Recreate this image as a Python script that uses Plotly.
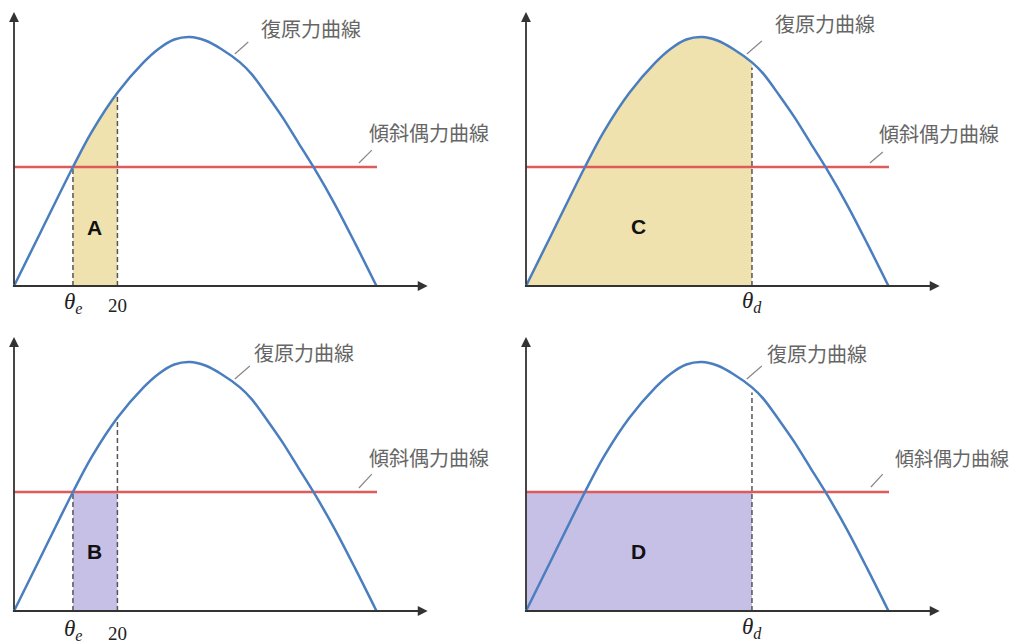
import plotly.graph_objects as go

# ---------------- data ----------------
heel_angle = [0, 5, 11.4, 15, 20, 25, 28, 31, 34, 37, 40, 43.7,
              46, 49, 52, 55, 58, 62, 66, 70.1]
righting_lever = [0, 0.21, 0.478, 0.618, 0.776, 0.897, 0.953, 0.99, 1.0, 0.986,
                  0.953, 0.898, 0.85, 0.765, 0.675, 0.575, 0.475, 0.33, 0.17, 0]
heeling_span = [0, 70.2]
heeling_lever = 0.478
theta_e = 11.4
angle_20 = 20
theta_d = 43.7
curve_label = "復原力曲線"
heel_label = "傾斜偶力曲線"
panel_letters = ["A", "C", "B", "D"]

# ---------------- styling / layout ----------------
OFF = 8                      # page body margin of the browser
W, H = 1017 - OFF, 641 - OFF
PX_PER_DEG = 5.171
PX_PER_UNIT = 249.0
XR = [-2, 92]
YR = [-0.04, 1.12]
BLUE = "#4a7ebf"
RED = "#e05a5a"
TAN = "#efe2ae"
PURPLE = "#c6bfe6"
AXC = "#333333"
DASHC = "#555555"
TXT = "#666666"
SMOOTH = 0.9

# origin pixel (screen) of each panel (left, bottom) : TL, TR, BL, BR
origins = [(14, 286), (526, 286), (14, 611), (526, 611)]

curve_lab_pos = [(57.4, 1.036), (57.9, 1.056), (56.1, 1.040), (56.3, 1.036)]
curve_leader = [((42.7, 0.932), (45.3, 0.980)), ((42.7, 0.932), (45.6, 0.984)),
                ((42.7, 0.932), (45.6, 0.984)), ((42.7, 0.932), (45.6, 0.984))]
heel_lab_pos = [(80.3, 0.618), (79.9, 0.614), (80.2, 0.618), (82.3, 0.618)]
heel_leader = [((66.7, 0.494), (69.2, 0.546)), ((66.5, 0.494), (69.0, 0.538)),
               ((66.7, 0.494), (69.2, 0.550)), ((66.7, 0.498), (69.0, 0.550))]
letter_pos = [(15.5, 0.233), (21.7, 0.237), (15.5, 0.237), (21.7, 0.237)]
tick_shift = [-17, -16, -19, -17]
num_shift = [-19, None, -22, None]

fig = go.Figure()
layout_axes = {}
annotations = []
shapes = []


def curve_at(a):
    return righting_lever[heel_angle.index(a)]


for i, (Ls, Bs) in enumerate(origins):
    L, B = Ls - OFF, Bs - OFF
    k = "" if i == 0 else str(i + 1)
    xa, ya = "x" + k, "y" + k
    x0 = (L + XR[0] * PX_PER_DEG) / W
    x1 = (L + XR[1] * PX_PER_DEG) / W
    yb = (H - (B - YR[0] * PX_PER_UNIT)) / H
    yt = (H - (B - YR[1] * PX_PER_UNIT)) / H
    layout_axes["xaxis" + k] = dict(domain=[max(0, x0), min(1, x1)], range=XR, visible=False,
                                    anchor=ya, fixedrange=True)
    layout_axes["yaxis" + k] = dict(domain=[max(0, yb), min(1, yt)], range=YR, visible=False,
                                    anchor=xa, fixedrange=True)
    # keep exact scale when domain was clipped
    if x0 < 0 or x1 > 1:
        lo_x = XR[0] + (max(0, x0) - x0) * W / PX_PER_DEG
        hi_x = XR[1] - (x1 - min(1, x1)) * W / PX_PER_DEG
        layout_axes["xaxis" + k]["range"] = [lo_x, hi_x]
    if yb < 0 or yt > 1:
        lo_y = YR[0] + (max(0, yb) - yb) * H / PX_PER_UNIT
        hi_y = YR[1] - (yt - min(1, yt)) * H / PX_PER_UNIT
        layout_axes["yaxis" + k]["range"] = [lo_y, hi_y]

    left_panel = i in (0, 2)
    curve_fill = i in (0, 1)
    lo, hi = (theta_e, angle_20) if left_panel else (0, theta_d)
    fill_color = TAN if curve_fill else PURPLE

    # shaded area
    if curve_fill:
        fx = [a for a in heel_angle if lo <= a <= hi]
        fy = [righting_lever[heel_angle.index(a)] for a in fx]
        fig.add_trace(go.Scatter(x=fx, y=fy, xaxis=xa, yaxis=ya, mode="lines",
                                 line=dict(width=0, shape="spline", smoothing=SMOOTH),
                                 fill="tozeroy", fillcolor=fill_color,
                                 hoverinfo="skip", showlegend=False))
    else:
        fig.add_trace(go.Scatter(x=[lo, hi, hi, lo, lo],
                                 y=[0, 0, heeling_lever, heeling_lever, 0],
                                 xaxis=xa, yaxis=ya, mode="lines",
                                 line=dict(width=0), fill="toself",
                                 fillcolor=fill_color, hoverinfo="skip",
                                 showlegend=False))

    # dashed verticals
    if left_panel:
        dashed = [(theta_e, heeling_lever), (angle_20, curve_at(angle_20))]
    else:
        dashed = [(theta_d, curve_at(theta_d) - 0.02)]
    for dx, dtop in dashed:
        fig.add_trace(go.Scatter(x=[dx, dx], y=[0, dtop], xaxis=xa, yaxis=ya,
                                 mode="lines",
                                 line=dict(color=DASHC, width=1.5, dash="5px,3px"),
                                 hoverinfo="skip", showlegend=False))

    # heeling moment line
    fig.add_trace(go.Scatter(x=heeling_span, y=[heeling_lever, heeling_lever],
                             xaxis=xa, yaxis=ya, mode="lines",
                             line=dict(color=RED, width=2.5),
                             hoverinfo="skip", showlegend=False))
    # righting lever curve
    fig.add_trace(go.Scatter(x=heel_angle, y=righting_lever, xaxis=xa, yaxis=ya,
                             mode="lines",
                             line=dict(color=BLUE, width=2.5, shape="spline",
                                       smoothing=SMOOTH),
                             hoverinfo="skip", showlegend=False))

    # axes with arrow heads
    annotations.append(dict(x=80, y=0, ax=-0.5, ay=0, xref=xa, yref=ya,
                            axref=xa, ayref=ya, text="", showarrow=True,
                            arrowhead=2, arrowsize=1.1, arrowwidth=1.8,
                            arrowcolor=AXC))
    annotations.append(dict(x=0, y=1.10, ax=0, ay=0, xref=xa, yref=ya,
                            axref=xa, ayref=ya, text="", showarrow=True,
                            arrowhead=2, arrowsize=1.1, arrowwidth=1.8,
                            arrowcolor=AXC))

    # labels
    cx, cy = curve_lab_pos[i]
    annotations.append(dict(x=cx, y=cy, xref=xa, yref=ya, text=curve_label,
                            showarrow=False,
                            font=dict(family="Noto Sans CJK JP", size=20, color=TXT)))
    (l0, l1) = curve_leader[i]
    shapes.append(dict(type="line", xref=xa, yref=ya, x0=l0[0], y0=l0[1],
                       x1=l1[0], y1=l1[1], line=dict(color="#888888", width=1.2)))
    hx, hy = heel_lab_pos[i]
    annotations.append(dict(x=hx, y=hy, xref=xa, yref=ya, text=heel_label,
                            showarrow=False,
                            font=dict(family="Noto Sans CJK JP", size=19 if i == 3 else 20,
                                      color=TXT)))
    (l0, l1) = heel_leader[i]
    shapes.append(dict(type="line", xref=xa, yref=ya, x0=l0[0], y0=l0[1],
                       x1=l1[0], y1=l1[1], line=dict(color="#888888", width=1.2)))

    lx, ly = letter_pos[i]
    annotations.append(dict(x=lx, y=ly, xref=xa, yref=ya, text="<b>%s</b>" % panel_letters[i],
                            showarrow=False,
                            font=dict(family="Liberation Sans", size=21, color="#111111")))

    # angle labels below the axis
    if left_panel:
        annotations.append(dict(x=theta_e, y=0, xref=xa, yref=ya,
                                text="<i>θ</i><sub><i>e</i></sub>", showarrow=False,
                                yanchor="middle", yshift=tick_shift[i],
                                font=dict(family="Liberation Serif", size=23, color="#222222")))
        annotations.append(dict(x=angle_20, y=0, xref=xa, yref=ya,
                                text=str(angle_20), showarrow=False,
                                yanchor="middle", yshift=num_shift[i],
                                font=dict(family="Liberation Serif", size=19, color="#222222")))
    else:
        annotations.append(dict(x=theta_d, y=0, xref=xa, yref=ya,
                                text="<i>θ</i><sub><i>d</i></sub>", showarrow=False,
                                yanchor="middle", yshift=tick_shift[i],
                                font=dict(family="Liberation Serif", size=23, color="#222222")))

fig.update_layout(width=W, height=H, margin=dict(l=0, r=0, t=0, b=0),
                  paper_bgcolor="white", plot_bgcolor="rgba(0,0,0,0)",
                  showlegend=False, annotations=annotations, shapes=shapes,
                  **layout_axes)
fig.write_html("out.html")
